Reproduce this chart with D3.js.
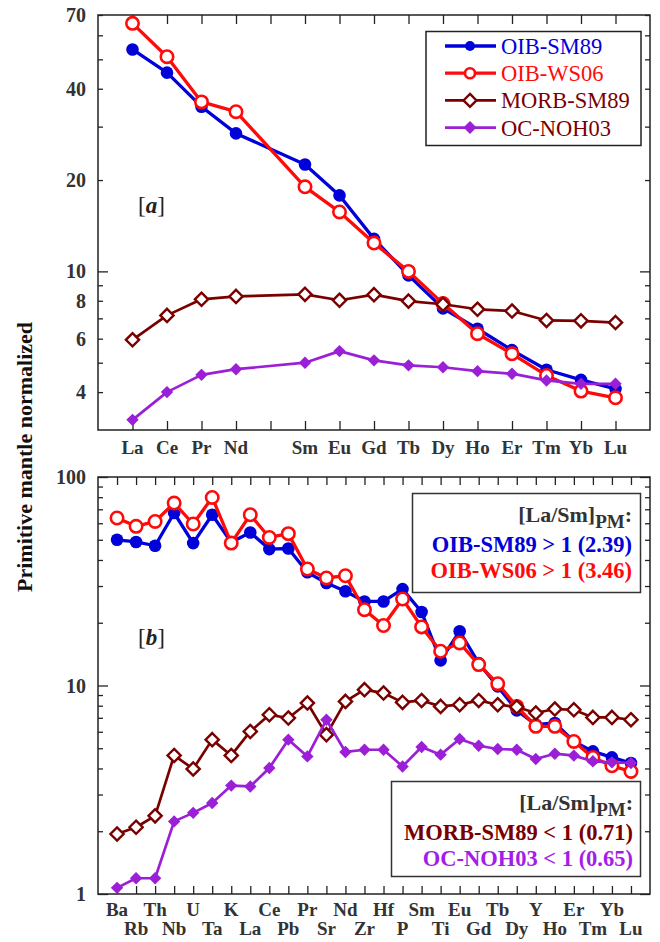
<!DOCTYPE html>
<html>
<head>
<meta charset="utf-8">
<script src="https://cdnjs.cloudflare.com/ajax/libs/d3/7.8.5/d3.min.js"></script>
<style>
  body { margin: 0; background: #fff; }
  svg text { font-family: "Liberation Serif", "Times New Roman", serif; }
</style>
</head>
<body>
<svg id="chart" width="660" height="942"></svg>
<script>
// ---- data ----

// panel a : REE (empty slot = Pm)
var reeNames = ["La","Ce","Pr","Nd","","Sm","Eu","Gd","Tb","Dy","Ho","Er","Tm","Yb","Lu"];
var reeOibSm89 = [53.9,45.2,34.9,28.5,null,22.5,17.8,12.8,9.7,7.55,6.47,5.5,4.74,4.39,4.1];
var reeOibWs06 = [65.7,51.0,36.2,33.6,null,19.0,15.7,12.4,10.0,7.83,6.23,5.35,4.54,4.03,3.83];
var reeMorbSm89 = [5.95,7.16,8.09,8.27,null,8.4,8.03,8.38,7.98,7.79,7.5,7.4,6.89,6.87,6.78];
var reeOcNoh03 = [3.24,4.0,4.56,4.76,null,5.0,5.46,5.09,4.9,4.83,4.69,4.6,4.37,4.26,4.26];

// panel b : spider diagram
var spiderNames = ["Ba","Rb","Th","Nb","U","Ta","K","La","Ce","Pb","Pr","Sr","Nd","Zr","Hf","P","Sm","Ti","Eu","Gd","Tb","Dy","Y","Ho","Er","Tm","Yb","Lu"];
var spOibSm89 = [50.0,48.8,46.8,67.2,48.2,65.9,48.6,54.2,45.1,45.4,34.9,31.0,28.3,25.3,25.3,29.0,22.5,13.2,18.2,12.8,9.9,7.6,6.49,6.61,5.39,4.83,4.52,4.25];
var spOibWs06 = [63.6,58.0,61.2,75.0,59.5,79.8,48.2,65.9,51.3,53.5,36.2,32.8,33.6,23.1,19.4,26.0,19.1,14.6,16.0,12.6,10.2,7.94,6.37,6.37,5.39,4.52,4.12,3.87];
var spMorbSm89 = [1.94,2.09,2.37,4.62,3.98,5.50,4.62,6.02,7.24,6.98,8.24,5.81,8.39,9.55,9.20,8.30,8.48,7.94,8.09,8.48,8.09,7.89,7.38,7.71,7.65,7.03,7.03,6.85];
var spOcNoh03 = [1.07,1.19,1.19,2.23,2.45,2.73,3.31,3.28,4.02,5.50,4.57,6.85,4.80,4.92,4.92,4.09,5.07,4.66,5.54,5.14,4.96,4.92,4.44,4.71,4.61,4.33,4.28,4.25];

// y ticks
var topTicks = [4,5,6,7,8,9,10,20,30,40,50,60,70];
var topTickLabels = [4,6,8,10,20,40,70];
var botTicks = [1,2,3,4,5,6,7,8,9,10,20,30,40,50,60,70,80,90,100];
var botTickLabels = [1,10,100];
var decades = [1,10,100];

var seriesNames = ["OIB-SM89","OIB-WS06","MORB-SM89","OC-NOH03"];
var ratioText = ["OIB-SM89 > 1 (2.39)","OIB-WS06 > 1 (3.46)","MORB-SM89 < 1 (0.71)","OC-NOH03 < 1 (0.65)"];

// ---- styles ----
var BLUE = "#0000d8", RED = "#ff0a0a", MAROON = "#7a0000", PURPLE = "#9a1fd6";
var styles = [
  {color: BLUE, marker: "circle", fill: BLUE, width: 3.3},
  {color: RED, marker: "circle", fill: "#fff", width: 3.3},
  {color: MAROON, marker: "diamond", fill: "#fff", width: 2.7},
  {color: PURPLE, marker: "diamond", fill: PURPLE, width: 2.7}
];

var svg = d3.select("#chart");
var X0 = 98, X1 = 650;

function addMarker(sel, st, cx, cy, small) {
  if (st.marker == "circle") {
    sel.append("circle")
      .attr("cx", cx).attr("cy", cy)
      .attr("r", small ? 5 : (st.fill == "#fff" ? 6.2 : 6.3))
      .attr("fill", st.fill)
      .attr("stroke", st.color)
      .attr("stroke-width", st.fill == "#fff" ? 2.6 : 0);
  } else {
    var h = small ? 6.5 : (st.fill == "#fff" ? 6.6 : 6.2);
    sel.append("path")
      .attr("d", "M" + cx + "," + (cy - h) + "L" + (cx + h) + "," + cy + "L" + cx + "," + (cy + h) + "L" + (cx - h) + "," + cy + "Z")
      .attr("fill", st.fill)
      .attr("stroke", st.color)
      .attr("stroke-width", st.fill == "#fff" ? 2.4 : 0);
  }
}

function drawPanel(p) {
  var g = svg.append("g");
  var x = d3.scaleLinear().domain([-1, p.names.length]).range([X0, X1]);
  var y = d3.scaleLog().domain(p.yDomain).range([p.yBottom, p.yTop]);
  var idx = d3.range(p.names.length);

  // x ticks, inward on both sides
  g.append("g").attr("class", "ax")
    .attr("transform", "translate(0," + p.yBottom + ")")
    .call(d3.axisBottom(x).tickValues(idx).tickSize(-p.xTick).tickFormat(""));
  g.append("g").attr("class", "ax")
    .attr("transform", "translate(0," + p.yTop + ")")
    .call(d3.axisTop(x).tickValues(idx).tickSize(-p.xTick).tickFormat(""));

  // y ticks, minor and decade, left and right
  var minor = p.yTicks.filter(function(v){ return decades.indexOf(v) < 0; });
  var major = p.yTicks.filter(function(v){ return decades.indexOf(v) >= 0; });
  [[minor, 5], [major, 10]].forEach(function(t) {
    g.append("g").attr("class", "ax")
      .attr("transform", "translate(" + X0 + ",0)")
      .call(d3.axisLeft(y).tickValues(t[0]).tickSize(-t[1]).tickFormat(""));
    g.append("g").attr("class", "ax")
      .attr("transform", "translate(" + X1 + ",0)")
      .call(d3.axisRight(y).tickValues(t[0]).tickSize(-t[1]).tickFormat(""));
  });
  g.selectAll(".ax .domain").remove();
  g.selectAll(".ax line").attr("stroke", "#222").attr("stroke-width", 1.3);

  // frame
  g.append("rect")
    .attr("x", X0).attr("y", p.yTop)
    .attr("width", X1 - X0).attr("height", p.yBottom - p.yTop)
    .attr("fill", "none").attr("stroke", "#222").attr("stroke-width", 1.5);

  // y tick labels
  g.selectAll(".ylab").data(p.yLabels).enter().append("text")
    .attr("x", 86).attr("y", function(d){ return y(d) + 7; })
    .attr("text-anchor", "end")
    .attr("font-size", 20).attr("font-weight", "bold").attr("fill", "#333")
    .text(function(d){ return d; });

  // x labels
  g.selectAll(".xlab").data(p.names).enter().append("text")
    .attr("x", function(d, i){ return x(i); })
    .attr("y", function(d, i){ return p.twoRows && i % 2 == 1 ? p.xLabelY + 19 : p.xLabelY; })
    .attr("text-anchor", "middle")
    .attr("font-size", 19).attr("font-weight", "bold").attr("fill", "#333")
    .text(function(d){ return d; });

  // series
  var line = d3.line()
    .x(function(d){ return x(d.i); })
    .y(function(d){ return y(d.v); });
  p.series.forEach(function(vals, k) {
    var st = styles[k];
    var pts = vals.map(function(v, i){ return {i: i, v: v}; })
      .filter(function(d){ return d.v != null; });
    g.append("path").datum(pts)
      .attr("d", line)
      .attr("fill", "none")
      .attr("stroke", st.color)
      .attr("stroke-width", st.width)
      .attr("stroke-linejoin", "round");
    var mg = g.append("g");
    pts.forEach(function(d){ addMarker(mg, st, x(d.i), y(d.v), false); });
  });

  // panel tag
  var tag = g.append("text")
    .attr("x", 138).attr("y", p.tagY)
    .attr("font-size", 23).attr("fill", "#222");
  tag.append("tspan").text("[");
  tag.append("tspan").attr("font-style", "italic").attr("font-weight", "bold").text(p.tag);
  tag.append("tspan").text("]");
  return g;
}

// panel a
var ga = drawPanel({
  names: reeNames,
  series: [reeOibSm89, reeOibWs06, reeMorbSm89, reeOcNoh03],
  yDomain: [3, 70], yTop: 15, yBottom: 430,
  yTicks: topTicks, yLabels: topTickLabels,
  xTick: 9, xLabelY: 454, twoRows: false,
  tag: "a", tagY: 213
});

// legend
ga.append("rect")
  .attr("x", 426).attr("y", 31.5).attr("width", 215).attr("height", 114)
  .attr("fill", "#fff").attr("stroke", "#222").attr("stroke-width", 1.5);
var legendText = [BLUE, RED, MAROON, MAROON];
seriesNames.forEach(function(name, k) {
  var ly = 46 + k * 27.2;
  var st = styles[k];
  ga.append("line")
    .attr("x1", 445).attr("x2", 496).attr("y1", ly).attr("y2", ly)
    .attr("stroke", st.color).attr("stroke-width", st.width);
  addMarker(ga, st, 470, ly, true);
  ga.append("text")
    .attr("x", 501).attr("y", ly + 8)
    .attr("font-size", 22.5).attr("fill", legendText[k])
    .text(name);
});

// panel b
var gb = drawPanel({
  names: spiderNames,
  series: [spOibSm89, spOibWs06, spMorbSm89, spOcNoh03],
  yDomain: [1, 100], yTop: 477, yBottom: 894,
  yTicks: botTicks, yLabels: botTickLabels,
  xTick: 8, xLabelY: 916, twoRows: true,
  tag: "b", tagY: 645
});

function ratioBox(g, bx, by, bw, bh, rx, lines, colors) {
  g.append("rect")
    .attr("x", bx).attr("y", by).attr("width", bw).attr("height", bh)
    .attr("fill", "#fff").attr("stroke", "#333").attr("stroke-width", 1.5);
  var head = g.append("text")
    .attr("x", rx).attr("y", by + 28)
    .attr("text-anchor", "end")
    .attr("font-size", 22).attr("font-weight", "bold").attr("fill", "#333");
  head.append("tspan").text("[La/Sm]");
  head.append("tspan").attr("dy", 6).attr("font-size", 19).text("PM");
  head.append("tspan").attr("dy", -6).text(":");
  lines.forEach(function(t, k) {
    g.append("text")
      .attr("x", rx).attr("y", by + 58 + k * 26.5)
      .attr("text-anchor", "end")
      .attr("font-size", 22.5).attr("font-weight", "bold").attr("fill", colors[k])
      .text(t);
  });
}
ratioBox(gb, 412.5, 493.5, 228, 99, 632, ratioText.slice(0, 2), [BLUE, RED]);
ratioBox(gb, 391.5, 781.5, 249, 95, 633, ratioText.slice(2), [MAROON, "#a21ee8"]);

// y axis title
svg.append("text")
  .attr("transform", "translate(32,457) rotate(-90)")
  .attr("text-anchor", "middle")
  .attr("font-size", 22).attr("font-weight", "bold").attr("fill", "#111")
  .text("Primitive mantle normalized");
</script>
</body>
</html>
